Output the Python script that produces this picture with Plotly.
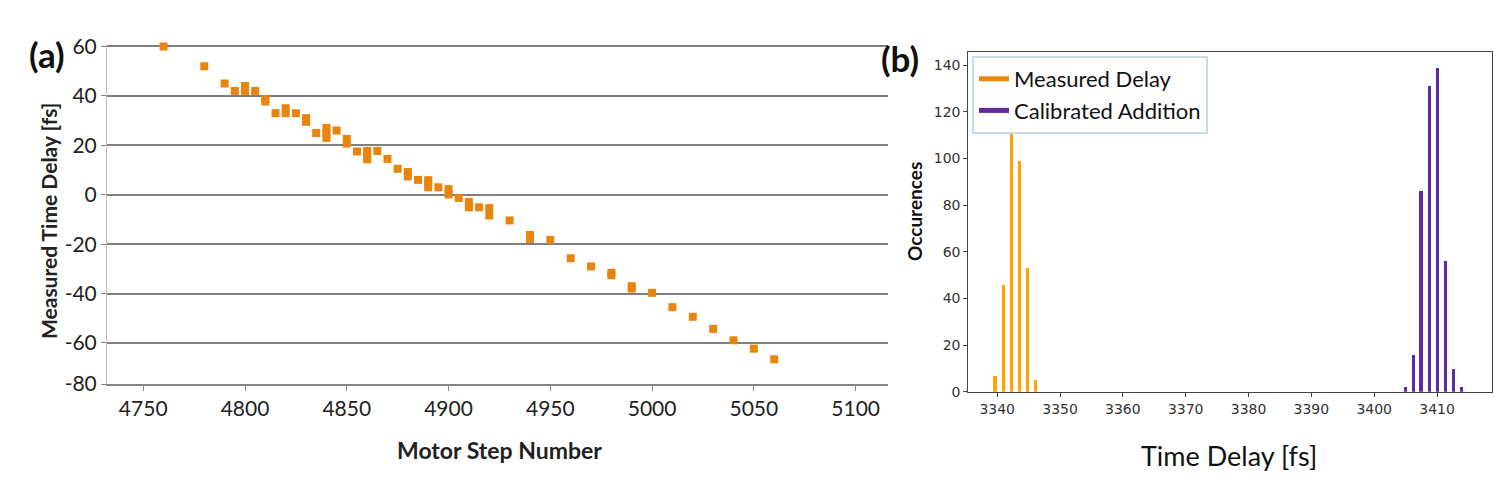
import plotly.graph_objects as go

# (a) motor step scan
motor_steps = [4760, 4780, 4790, 4795, 4800, 4800, 4805, 4810, 4810, 4815,
               4820, 4820, 4825, 4830, 4830, 4835, 4840, 4840, 4840, 4845,
               4850, 4850, 4855, 4860, 4860, 4860, 4865, 4870, 4875, 4880,
               4880, 4885, 4890, 4890, 4890, 4895, 4900, 4900, 4905, 4910,
               4910, 4915, 4920, 4920, 4930, 4940, 4940, 4950, 4960, 4970,
               4980, 4980, 4990, 4990, 5000, 5010, 5020, 5030, 5040, 5050, 5060]
time_delay = [60, 52, 45, 42, 44, 42, 42, 38.7, 37.7, 33,
              35, 33, 33, 31, 29.5, 25, 27, 25, 23, 26,
              22.6, 20.7, 17.5, 17.7, 16, 14.3, 17.7, 14.5, 10.5, 9.2,
              7.4, 6, 5.9, 4.5, 3, 3, 2.3, 0.1, -1.3, -2.9,
              -5.1, -5.1, -5.4, -8.4, -10.4, -16.3, -17.9, -18.3, -25.7, -29,
              -31.6, -32.6, -37, -38, -39.7, -45.5, -49.4, -54.3, -58.9, -62.3, -66.6]
a_ytick_vals = [-76.6, -60, -40, -20, 0, 20, 40, 60]
a_ytick_text = ["-80", "-60", "-40", "-20", "0", "20", "40", "60"]
a_xticks = [4750, 4800, 4850, 4900, 4950, 5000, 5050, 5100]

# (b) histogram of delays
measured_bins = [3339.7, 3341.0, 3342.3, 3343.6, 3344.9, 3346.2]
measured_counts = [7, 46, 113, 99, 53, 5]
calibrated_bins = [3405.0, 3406.3, 3407.5, 3408.8, 3410.1, 3411.4, 3412.7, 3414.0]
calibrated_counts = [2, 16, 86, 131, 139, 56, 10, 2]
b_xticks = [3340, 3350, 3360, 3370, 3380, 3390, 3400, 3410]
b_yticks = [0, 20, 40, 60, 80, 100, 120, 140]

# page has an 8px body margin, so the figure is a bit smaller than the window
OFF = 8
FW, FH = 1502 - 2 * OFF, 489 - 2 * OFF
ORANGE = "#E8850F"
BAR_ORANGE = "#FFA500"
PURPLE = "#5E2A9C"
CAL = "Lato"

fig = go.Figure()

fig.add_trace(go.Scatter(x=motor_steps, y=time_delay, mode="markers",
                         marker=dict(symbol="square", size=8, color=ORANGE),
                         cliponaxis=False, showlegend=False, xaxis="x", yaxis="y"))

fig.add_trace(go.Bar(x=measured_bins, y=measured_counts, width=0.5,
                     marker=dict(color=BAR_ORANGE, line=dict(width=0)),
                     showlegend=False, xaxis="x2", yaxis="y2"))
fig.add_trace(go.Bar(x=calibrated_bins, y=calibrated_counts, width=0.5,
                     marker=dict(color=PURPLE, line=dict(width=0)),
                     showlegend=False, xaxis="x2", yaxis="y2"))
# legend entries drawn as lines
fig.add_trace(go.Scatter(x=[None], y=[None], mode="lines", name="Measured Delay",
                         line=dict(color=ORANGE, width=5), xaxis="x2", yaxis="y2"))
fig.add_trace(go.Scatter(x=[None], y=[None], mode="lines", name="Calibrated Addition",
                         line=dict(color=PURPLE, width=5), xaxis="x2", yaxis="y2"))


def px(x):
    return (x - OFF) / FW


def py(y):
    return 1 - (y - OFF) / FH


fig.update_layout(
    width=FW, height=FH,
    margin=dict(l=0, r=0, t=0, b=0, autoexpand=False),
    paper_bgcolor="white", plot_bgcolor="white",
    bargap=0,
    xaxis=dict(domain=[px(107), px(888)], range=[4732.2, 5115.9],
               tickvals=a_xticks, showgrid=False, zeroline=False,
               showline=True, linecolor="#868686", linewidth=1.5,
               ticks="outside", ticklen=5, tickcolor="#868686",
               tickfont=dict(family=CAL, size=21, color="#222"),
               automargin=False, anchor="y"),
    yaxis=dict(domain=[py(384), py(45)], range=[-76.6, 60.6],
               tickvals=a_ytick_vals, ticktext=a_ytick_text,
               showgrid=True, gridcolor="#7F7F7F", gridwidth=1.5, zeroline=False,
               showline=True, linecolor="#BFBFBF", linewidth=1,
               ticks="outside", ticklen=5, tickcolor="#7F7F7F",
               tickfont=dict(family=CAL, size=21, color="#222"),
               automargin=False, anchor="x"),
    xaxis2=dict(domain=[px(968.3), px(1491.7)], range=[3335.4, 3418.7],
                tickvals=b_xticks, showgrid=False, zeroline=False,
                showline=True, mirror=True, linecolor="#444", linewidth=1,
                ticks="outside", ticklen=4, tickcolor="#444",
                tickfont=dict(family="DejaVu Sans", size=14, color="#333"),
                automargin=False, anchor="y2"),
    yaxis2=dict(domain=[py(391.7), py(51.7)], range=[0, 145.7],
                tickvals=b_yticks, showgrid=False, zeroline=False,
                showline=True, mirror=True, linecolor="#444", linewidth=1,
                ticks="outside", ticklen=4, tickcolor="#444",
                tickfont=dict(family="DejaVu Sans", size=14, color="#333"),
                automargin=False, anchor="x2"),
    legend=dict(x=px(972), y=py(56), xanchor="left", yanchor="top",
                bgcolor="white", bordercolor="#C8DBE9", borderwidth=2,
                font=dict(family=CAL, size=22, color="#111"),
                tracegroupgap=0, itemwidth=30),
)

annotations = [
    dict(text="<b>(a)</b>", x=px(47), y=py(54), size=35, angle=0, color="#111"),
    dict(text="<b>Measured Time Delay [fs]</b>", x=px(48), y=py(221), size=21, angle=-90, color="#222"),
    dict(text="<b>Motor Step Number</b>", x=px(499), y=py(450), size=23, angle=0, color="#222"),
    dict(text="<b>(b)</b>", x=px(900), y=py(58), size=35, angle=0, color="#111"),
    dict(text="<b>Occurences</b>", x=px(914), y=py(212), size=19, angle=-90, color="#111"),
    dict(text="Time Delay [fs]", x=px(1229), y=py(455), size=27, angle=0, color="#111"),
]
for a in annotations:
    fig.add_annotation(text=a["text"], x=a["x"], y=a["y"], xref="paper", yref="paper",
                       xanchor="center", yanchor="middle", showarrow=False,
                       textangle=a["angle"],
                       font=dict(family=CAL, size=a["size"], color=a["color"]))

fig.write_html("out.html")
